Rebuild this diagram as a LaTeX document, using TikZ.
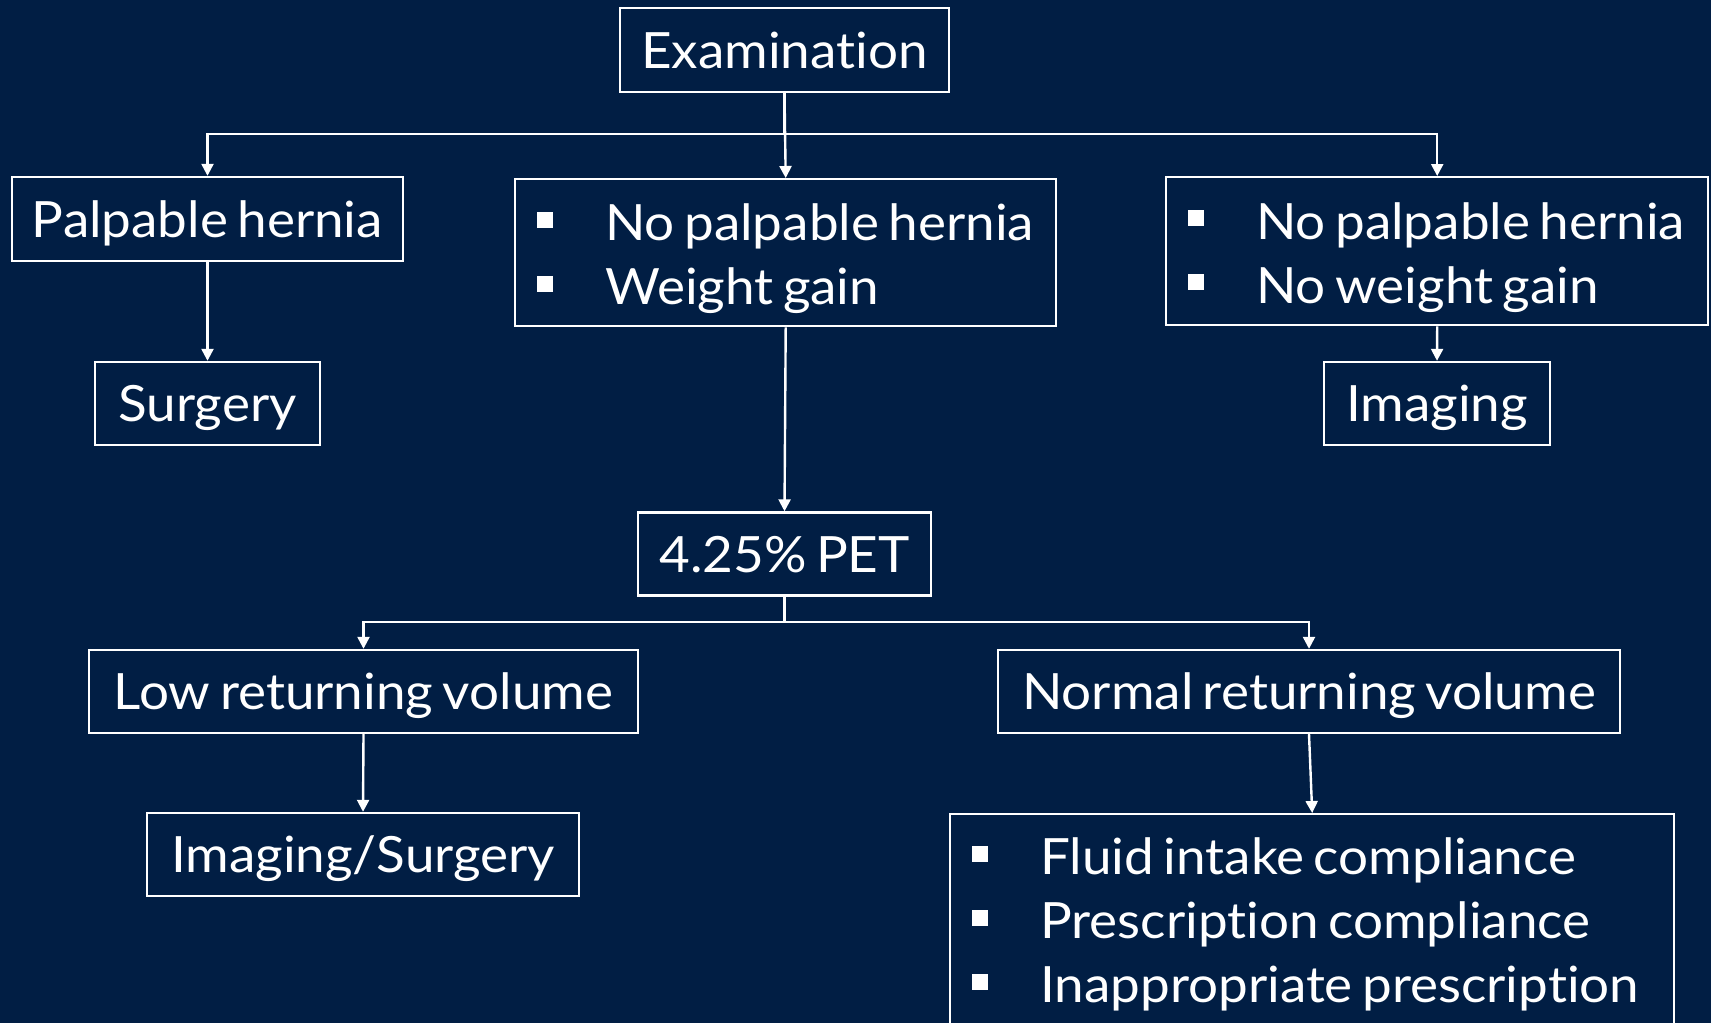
\documentclass[tikz,border=0pt]{standalone}
\usepackage{fontspec}
\setmainfont[Ligatures=NoCommon,FakeStretch=1.06,WordSpace=0.7]{Lato}
\usetikzlibrary{arrows.meta}
\definecolor{navy}{RGB}{1,30,68}
\newcommand{\sqitem}[1]{\mbox{\spaceskip=0pt\raisebox{6.5pt}{\rule{8pt}{8pt}}\hspace{26pt}#1}}

\begin{document}
\begin{tikzpicture}[x=0.5pt,y=-0.5pt,
    box/.style={draw=white,line width=1.2pt,text=white,inner sep=0pt,
        font=\fontsize{25}{32}\selectfont},
    onebox/.style={box,minimum height=41.5pt,text height=23pt,text depth=5pt},
    listbox/.style={box,align=left,inner xsep=11pt,anchor=north west,text height=22pt},
    arr/.style={draw=white,line width=1.2pt,-{Triangle[width=6pt,length=6pt]}},
    link/.style={draw=white,line width=1.2pt}]
    \useasboundingbox (0,0) rectangle (1711,1023);
    \clip (0,0) rectangle (1711,1023);
    \fill[navy] (0,0) rectangle (1711,1023);
    % first row
    \node[onebox,minimum width=164.5pt,minimum height=42pt] (exam) at (784.5,50) {Examination};
    \node[onebox,minimum width=195.5pt,minimum height=42pt] (palp) at (207.5,219) {Palpable hernia};
    \node[listbox,text width=248.5pt,minimum height=73.5pt,text depth=34pt] (mid) at (514,178)
        {\sqitem{No palpable hernia}\\ \sqitem{Weight gain}};
    \node[listbox,text width=249pt,minimum height=74pt,text depth=34pt] (right) at (1165,176)
        {\sqitem{No palpable hernia}\\ \sqitem{No weight gain}};
    \node[onebox,minimum width=112.5pt] (surg) at (207.5,403.5) {Surgery};
    \node[onebox,minimum width=113pt] (imag) at (1437,403.5) {Imaging};
    % second half
    \node[onebox,minimum width=146.5pt] (pet) at (784.5,554) {4.25\% PET};
    \node[onebox,minimum width=274.5pt] (low) at (363.5,691.5) {Low returning volume};
    \node[onebox,minimum width=311pt] (norm) at (1309,691.5) {Normal returning volume};
    \node[onebox,minimum width=216pt] (imsu) at (363,854.5) {Imaging/Surgery};
    \node[listbox,text width=340pt,minimum height=107pt] (causes) at (949,813)
        {\sqitem{Fluid intake compliance}\\ \sqitem{Prescription compliance}\\ \sqitem{Inappropriate prescription}};
    \coordinate (split1) at (784.5,134);
    \coordinate (split2) at (784.5,622);
    % connectors
    \draw[link] (exam.south) -- (split1);
    \draw[arr] (split1) -| (palp.north);
    \draw[arr] (split1) -| (right.north);
    \draw[arr] (exam.south) -- (mid.north);
    \draw[arr] (palp.south) -- (surg.north);
    \draw[arr] (right.south) -- (imag.north);
    \draw[arr] (mid.south) -- (pet.north);
    \draw[link] (pet.south) -- (split2);
    \draw[arr] (split2) -| (low.north);
    \draw[arr] (split2) -| (norm.north);
    \draw[arr] (low.south) -- (imsu.north);
    \draw[arr] (norm.south) -- (causes.north);
\end{tikzpicture}
\end{document}
